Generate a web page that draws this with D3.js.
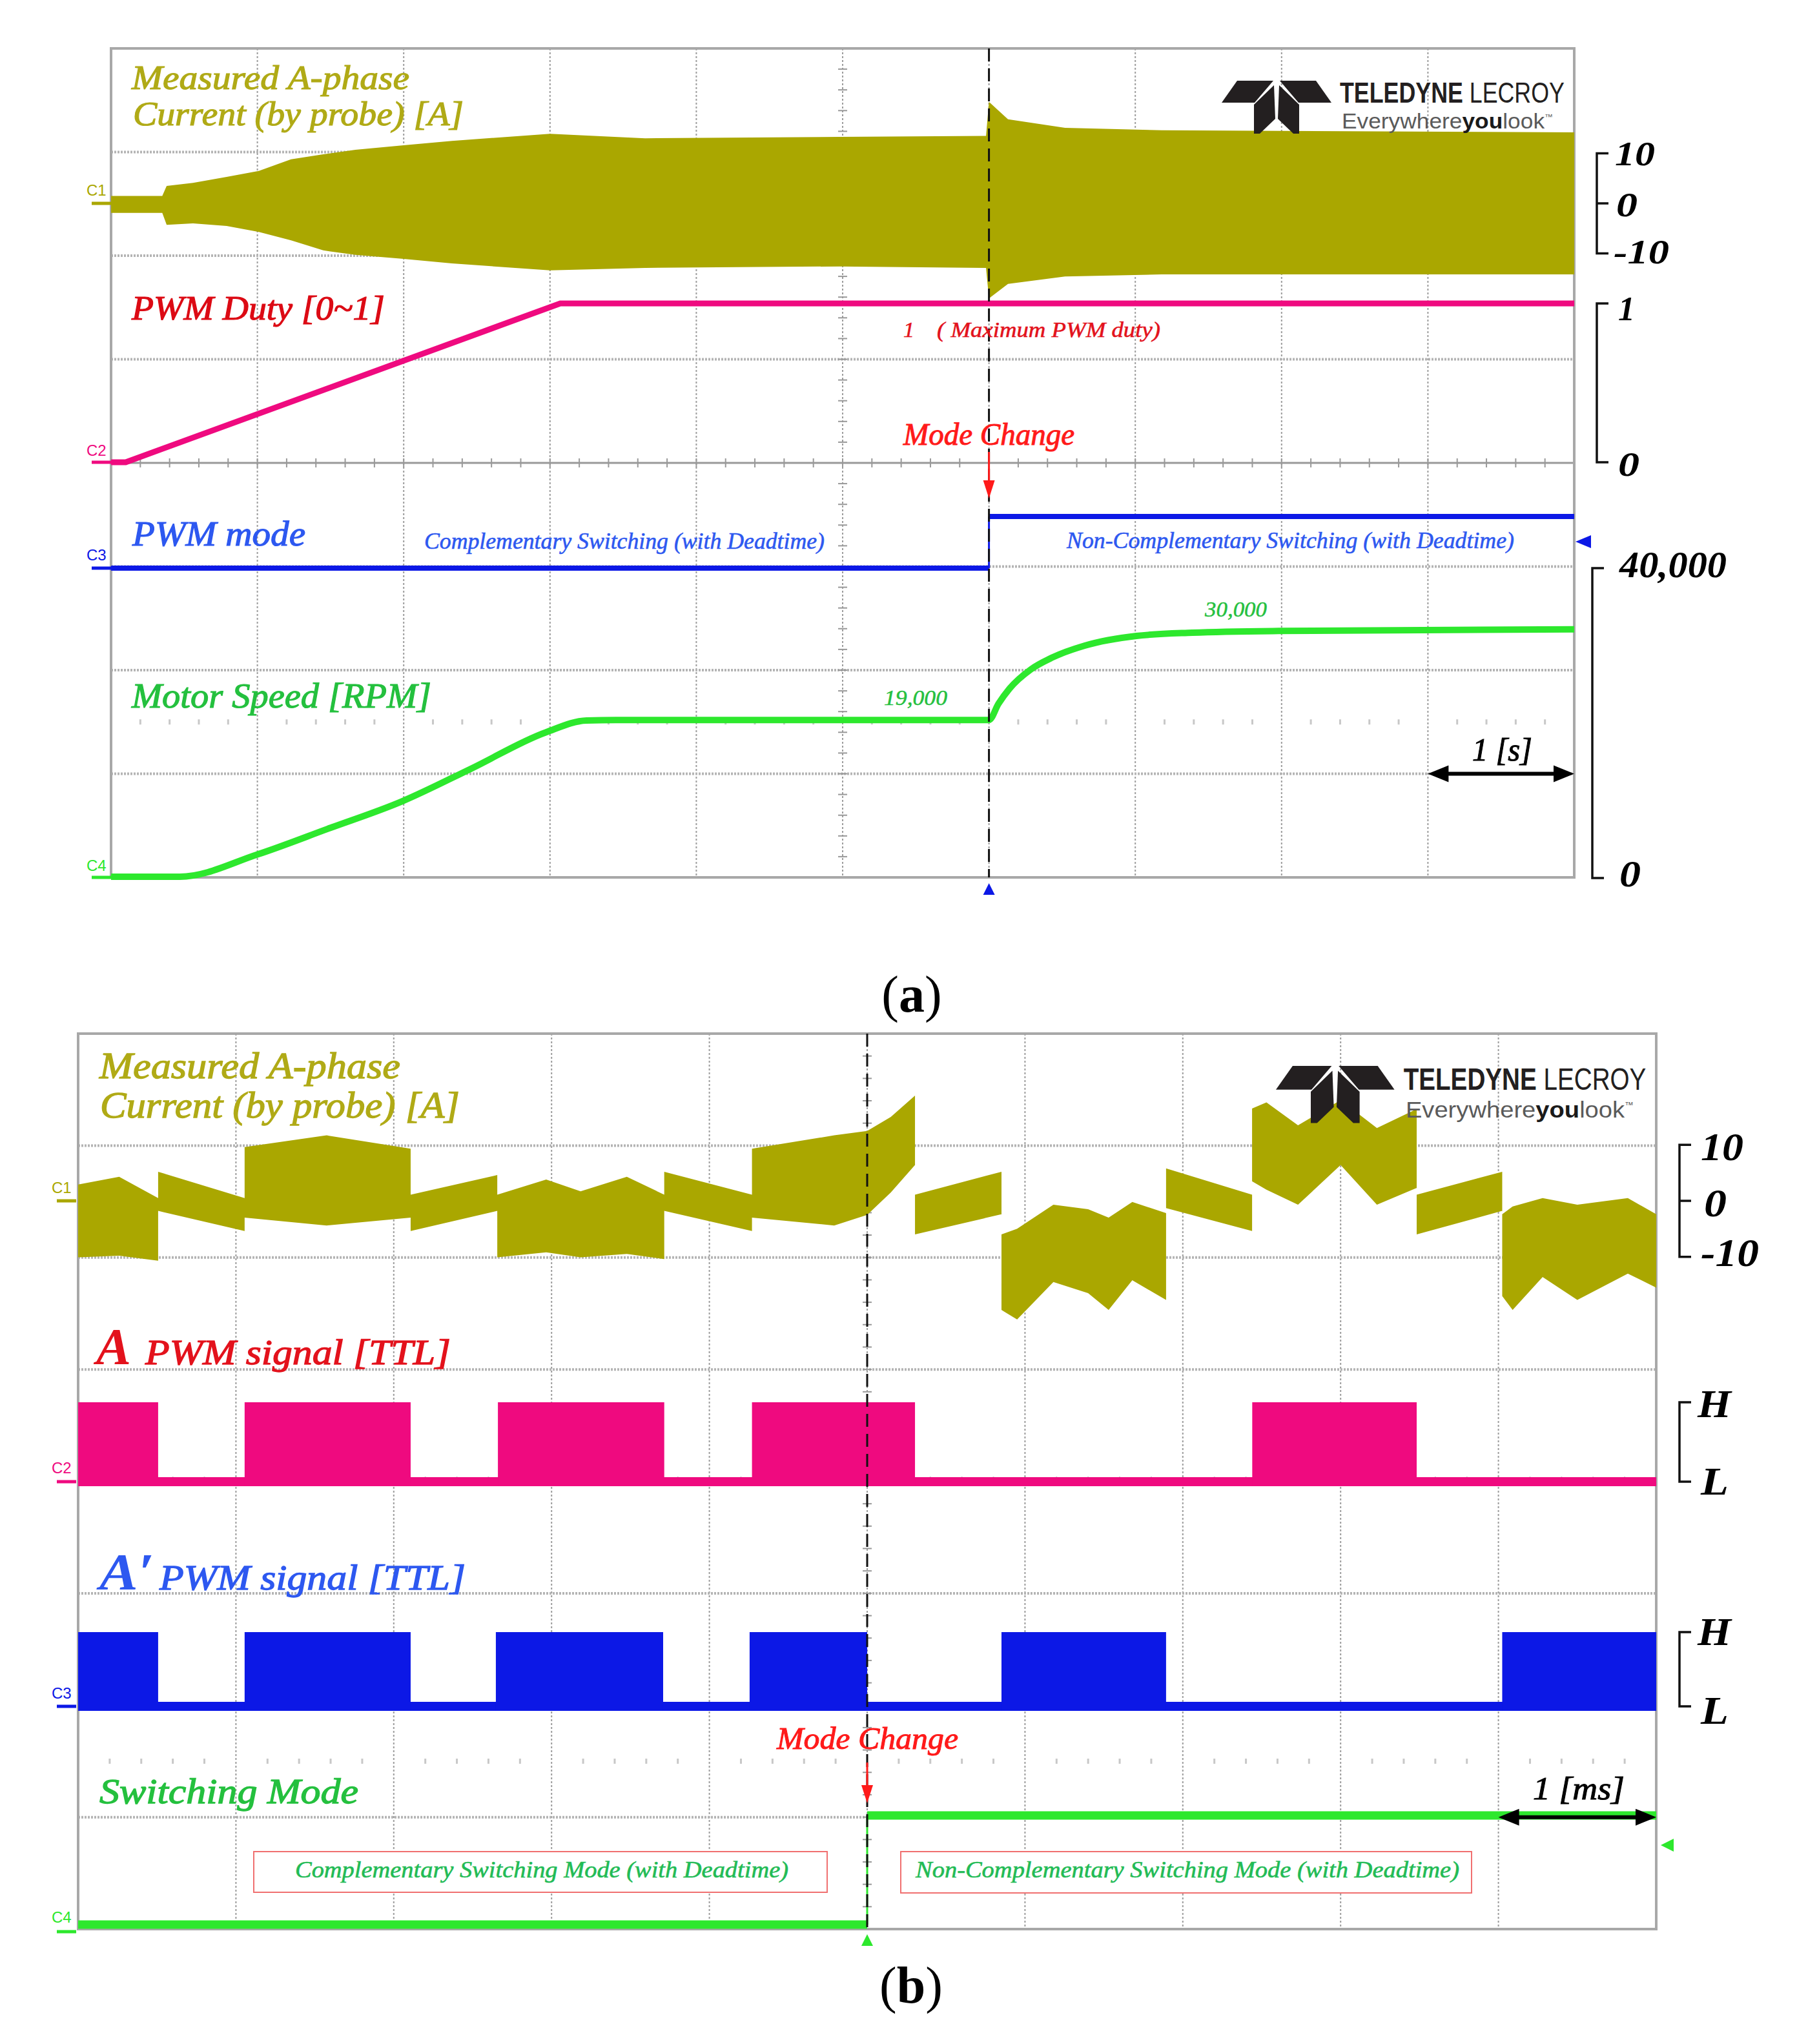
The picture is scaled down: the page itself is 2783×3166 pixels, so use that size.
<!DOCTYPE html>
<html>
<head>
<meta charset="utf-8">
<script src="https://cdn.jsdelivr.net/npm/d3@7/dist/d3.min.js"></script>
<style>body{margin:0;background:#fff}</style>
</head>
<body>
<script>
"use strict";

// ---- data read off the two scope screens ----
// (a) time in s, current in A as [t, upper envelope, lower envelope]
const currentA = [
	[0.00, 1.5, -1.9], [0.35, 1.5, -1.9], [0.38, 3.5, -4.3], [0.56, 4.1, -4.0],
	[0.79, 5.3, -4.5], [1.01, 6.5, -5.7], [1.23, 8.8, -7.4], [1.45, 9.8, -9.4],
	[1.67, 10.7, -10.3], [2.00, 11.6, -11.1], [2.33, 12.5, -12.0], [3.00, 13.9, -13.4],
	[3.65, 13.0, -12.9], [4.98, 13.3, -12.6], [5.98, 13.5, -12.9], [6.00, 20.3, -19.0],
	[6.13, 16.8, -16.1], [6.52, 15.1, -14.6], [7.18, 14.6, -14.2], [10.0, 14.2, -14.2]
]
const dutyA = [[0, 0], [0.1, 0], [3.07, 1], [10, 1]]
const modeA = [[0, 0], [6, 0], [6, 1], [10, 1]]
const speedA = [
	[0, 0], [0.47, 0], [1.0, 2700], [1.48, 5800], [1.99, 9150], [2.46, 13100],
	[2.97, 17500], [3.25, 18950], [3.45, 19000], [6.0, 19000], [6.065, 20980],
	[6.14, 22800], [6.287, 25150], [6.434, 26590], [6.655, 28020], [7.008, 29200],
	[7.39, 29590], [7.98, 29800], [10, 30000]
]
const modeChangeA = 6 // s
const speedMarks = [19000, 30000]

// (b) time in ms
const currentB = [
	[0.000, 2.9, -10.1], [0.260, 4.3, -9.8], [0.507, 0.5, -10.7],
	[0.507, 5.2, -1.8], [1.055, 0.5, -5.4],
	[1.055, 9.6, -3.0], [1.575, 11.7, -4.4], [2.107, 9.3, -3.0],
	[2.107, 1.1, -5.4], [2.656, 4.6, -1.8],
	[2.656, 1.1, -10.1], [2.966, 3.8, -9.2], [3.184, 1.7, -10.1], [3.477, 4.3, -9.5], [3.714, 1.1, -10.4],
	[3.714, 5.2, -1.8], [4.270, 1.1, -5.4],
	[4.270, 9.3, -3.0], [4.791, 11.7, -4.4], [5.000, 12.5, -2.5], [5.150, 15.0, 1.5], [5.303, 18.8, 6.4],
	[5.303, 1.1, -6.0], [5.851, 5.2, -2.4],
	[5.851, -6.0, -19.5], [5.950, -5.0, -21.2], [6.180, -0.7, -14.5], [6.400, -1.5, -16.5],
	[6.530, -3.0, -19.5], [6.680, -0.2, -14.2], [6.894, -2.2, -17.7],
	[6.894, 5.8, -1.3], [7.439, 1.1, -5.4],
	[7.439, 16.5, 3.5], [7.530, 17.6, 2.0], [7.730, 13.5, -0.7], [8.000, 18.0, 6.4], [8.230, 13.0, -0.7], [8.482, 16.4, 2.3],
	[8.482, 1.1, -6.0], [9.024, 5.2, -1.8],
	[9.024, -2.4, -17.0], [9.090, -1.0, -19.5], [9.280, 0.5, -13.6], [9.500, -0.7, -17.7], [9.820, 0.5, -13.0], [10.00, -2.4, -15.5]
]
const pwmHighA = [[0, 0.507], [1.055, 2.107], [2.66, 3.714], [4.27, 5.303], [7.44, 8.482]]
const pwmHighAp = [[0, 0.507], [1.055, 2.107], [2.647, 3.707], [4.255, 5.0], [5.851, 6.894], [9.024, 10]]
const switchModeB = [[0, 0], [5, 0], [5, 1], [10, 1]]
const modeChangeB = 5 // ms

// scale labels on the right
const curLabels = ['10', '0', '-10']
const dutyLabels = ['1', '0']
const speedLabels = ['40,000', '0']
const ttlLabels = ['H', 'L']

// ---- layout ----
const p = {
	width: 2783,
	height: 3166,
	frameA: { x0: 172, x1: 2438, y0: 75, y1: 1359 },
	frameB: { x0: 121, x1: 2565, y0: 1601, y1: 2988 },
	olive: '#aaa700', oliveText: '#b0aa16',
	pink: '#ef0a7f', red: '#e3121c',
	blue: '#0c18e6', blueText: '#2d58f0',
	green: '#2de82d', greenText: '#24c03e',
	serif: "'Liberation Serif','Times New Roman',serif",
	sans: "'Liberation Sans','Arial',sans-serif"
}

const svg = d3.select('body')
	.append('svg')
	.attr('width', p.width)
	.attr('height', p.height)
svg.append('rect').attr('width', p.width).attr('height', p.height).attr('fill', '#fff')

// scales
const xA = d3.scaleLinear().domain([0, 10]).range([p.frameA.x0, p.frameA.x1])
const yCurA = d3.scaleLinear().domain([-10, 10]).range([392.5, 237.5])
const yDutyA = d3.scaleLinear().domain([0, 1]).range([716, 470])
const yModeA = d3.scaleLinear().domain([0, 1]).range([880, 800])
const ySpeedA = d3.scaleLinear().domain([0, 40000]).range([1358, 847])

const xB = d3.scaleLinear().domain([0, 10]).range([p.frameB.x0, p.frameB.x1])
const yCurB = d3.scaleLinear().domain([-10, 10]).range([1946.7, 1773.3])
const yPwmA = d3.scaleLinear().domain([0, 1]).range([2295, 2172])
const yPwmAp = d3.scaleLinear().domain([0, 1]).range([2643, 2528])
const ySwB = d3.scaleLinear().domain([0, 1]).range([2981, 2812])

// text helper
function label(g, s, x, y, o) {
	const t = g.append('text')
		.attr('x', x)
		.attr('y', y)
		.attr('font-family', o.sans ? p.sans : p.serif)
		.attr('font-size', o.size)
		.attr('fill', o.color || '#000')
		.text(s)
	if (!o.upright) t.attr('font-style', 'italic')
	if (o.bold) t.attr('font-weight', 'bold')
	if (o.anchor) t.attr('text-anchor', o.anchor)
	if (o.width) t.attr('textLength', o.width).attr('lengthAdjust', 'spacingAndGlyphs')
	if (o.heavy) t.attr('stroke', o.color || '#000').attr('stroke-width', o.heavy)
	return t
}

// squeeze a text horizontally to a given width with a transform
function squeeze(t, x, y, width) {
	const w = t.node().getComputedTextLength()
	t.attr('transform', `translate(${x},${y}) scale(${w > 0 ? width / w : 1},1)`)
	return t
}

// scope graticule
function drawGrid(g, f) {
	const dx = (f.x1 - f.x0) / 10, dy = (f.y1 - f.y0) / 8
	const cx = f.x0 + 5 * dx, cy = f.y0 + 4 * dy
	for (let i = 1; i < 10; i++) {
		g.append('line')
			.attr('x1', f.x0 + i * dx).attr('x2', f.x0 + i * dx)
			.attr('y1', f.y0).attr('y2', f.y1)
			.attr('stroke', '#9c9c9c').attr('stroke-width', 2).attr('stroke-dasharray', '3,3')
	}
	for (let j = 1; j < 8; j++) {
		if (j === 4) continue
		g.append('line')
			.attr('x1', f.x0).attr('x2', f.x1)
			.attr('y1', f.y0 + j * dy).attr('y2', f.y0 + j * dy)
			.attr('stroke', '#b4b4b4').attr('stroke-width', 4).attr('stroke-dasharray', '3,2')
	}
	//center cross with minor ticks
	g.append('line').attr('x1', f.x0).attr('x2', f.x1).attr('y1', cy).attr('y2', cy)
		.attr('stroke', '#999').attr('stroke-width', 3)
	for (let k = 1; k < 50; k++) {
		g.append('line').attr('x1', f.x0 + k * dx / 5).attr('x2', f.x0 + k * dx / 5)
			.attr('y1', cy - 7).attr('y2', cy + 7).attr('stroke', '#999').attr('stroke-width', 2)
	}
	for (let k = 1; k < 40; k++) {
		g.append('line').attr('x1', cx - 7).attr('x2', cx + 7)
			.attr('y1', f.y0 + k * dy / 5).attr('y2', f.y0 + k * dy / 5).attr('stroke', '#999').attr('stroke-width', 2)
	}
	//faint row of marks left on the screen
	for (let k = 1; k < 50; k++) {
		if (k % 5 === 0) continue
		g.append('rect').attr('x', f.x0 + k * dx / 5 - 1.5).attr('y', f.y0 + 6.5 * dy - 4)
			.attr('width', 3).attr('height', 8).attr('fill', '#c8c8c8')
	}
	g.append('rect')
		.attr('x', f.x0).attr('y', f.y0)
		.attr('width', f.x1 - f.x0).attr('height', f.y1 - f.y0)
		.attr('fill', 'none').attr('stroke', '#a8a8a8').attr('stroke-width', 4)
}

// step traces: thick levels, thin edges
function stepTrace(g, data, x, y, color, w) {
	for (let i = 1; i < data.length; i++) {
		const a = data[i - 1], b = data[i]
		g.append('line')
			.attr('x1', x(a[0])).attr('y1', y(a[1]))
			.attr('x2', x(b[0])).attr('y2', y(b[1]))
			.attr('stroke', color)
			.attr('stroke-width', a[0] === b[0] ? 3 : w)
	}
}

function bracket(g, x, yTop, yBot, mids) {
	let d = `M${x + 18},${yTop}H${x}V${yBot}H${x + 18}`
	mids.forEach(m => { d += `M${x},${m}H${x + 18}` })
	g.append('path').attr('d', d).attr('fill', 'none').attr('stroke', '#111').attr('stroke-width', 3.5)
}

function arrowDown(g, x, y0, y1, color) {
	g.append('line').attr('x1', x).attr('x2', x).attr('y1', y0).attr('y2', y1 - 24)
		.attr('stroke', color).attr('stroke-width', 3)
	g.append('path').attr('d', `M${x - 9},${y1 - 28}L${x + 9},${y1 - 28}L${x},${y1}Z`).attr('fill', color)
}

function doubleArrow(g, xa, xb, y) {
	g.append('line').attr('x1', xa + 20).attr('x2', xb - 20).attr('y1', y).attr('y2', y)
		.attr('stroke', '#000').attr('stroke-width', 6)
	g.append('path').attr('d', `M${xa},${y}L${xa + 32},${y - 13}L${xa + 32},${y + 13}Z`).attr('fill', '#000')
	g.append('path').attr('d', `M${xb},${y}L${xb - 32},${y - 13}L${xb - 32},${y + 13}Z`).attr('fill', '#000')
}

function chanTag(g, name, x, y, yLine, color) {
	label(g, name, x, y, { size: 24, sans: true, upright: true, color: color })
	g.append('line').attr('x1', x + 8).attr('x2', x + 38).attr('y1', yLine).attr('y2', yLine)
		.attr('stroke', color).attr('stroke-width', 5)
}

// teledyne lecroy badge
function drawLogo(g, x, y, k) {
	const lg = g.append('g').attr('transform', `translate(${x},${y}) scale(${k})`)
	const polys = [
		[[24, 0], [80, 0], [51, 34], [0, 34]],
		[[90, 0], [146, 0], [170, 34], [119, 34]],
		[[50, 37], [81, 7], [83, 59], [59, 82], [50, 82]],
		[[120, 37], [89, 7], [87, 59], [111, 82], [120, 82]]
	]
	polys.forEach(pt => lg.append('path').attr('d', 'M' + pt.join('L') + 'Z').attr('fill', '#231f20'))
	const top = label(lg, '', 0, 0, { size: 44, sans: true, upright: true, color: '#231f20' })
	top.append('tspan').text('TELEDYNE ').attr('font-weight', 'bold')
	top.append('tspan').text('LECROY')
	squeeze(top, 183, 34, 348)
	const t = label(lg, '', 0, 0, { size: 33, sans: true, upright: true, color: '#5a5a5a' })
	t.append('tspan').text('Everywhere')
	t.append('tspan').text('you').attr('font-weight', 'bold').attr('fill', '#1a1a1a')
	t.append('tspan').text('look')
	t.append('tspan').text('™').attr('font-size', 12).attr('dy', -14)
	squeeze(t, 186, 74, 327)
}

// ================= panel (a) =================
const ga = svg.append('g')
drawGrid(ga, p.frameA)

ga.append('path')
	.datum(currentA)
	.attr('d', d3.area().x(d => xA(d[0])).y0(d => yCurA(d[2])).y1(d => yCurA(d[1])))
	.attr('fill', p.olive)

ga.append('path')
	.datum(dutyA)
	.attr('d', d3.line().x(d => xA(d[0])).y(d => yDutyA(d[1])))
	.attr('fill', 'none').attr('stroke', p.pink).attr('stroke-width', 9)

stepTrace(ga, modeA, xA, yModeA, p.blue, 8)

ga.append('path')
	.datum(speedA)
	.attr('d', d3.line().curve(d3.curveMonotoneX).x(d => xA(d[0])).y(d => ySpeedA(d[1])))
	.attr('fill', 'none').attr('stroke', p.green).attr('stroke-width', 10)

// mode change marker
ga.append('line')
	.attr('x1', xA(modeChangeA)).attr('x2', xA(modeChangeA))
	.attr('y1', p.frameA.y0).attr('y2', p.frameA.y1)
	.attr('stroke', '#111').attr('stroke-width', 3).attr('stroke-dasharray', '20,11')
ga.append('path')
	.attr('d', `M${xA(modeChangeA)},1368L${xA(modeChangeA) - 9},1386L${xA(modeChangeA) + 9},1386Z`)
	.attr('fill', p.blue)
ga.append('path').attr('d', 'M2440,839L2464,829L2464,849Z').attr('fill', p.blue)
arrowDown(ga, xA(modeChangeA), 700, 772, '#ff1a1a')

chanTag(ga, 'C1', 134, 303, yCurA(0), p.olive)
chanTag(ga, 'C2', 134, 706, yDutyA(0), p.pink)
chanTag(ga, 'C3', 134, 868, yModeA(0), p.blue)
chanTag(ga, 'C4', 134, 1349, p.frameA.y1, p.green)

label(ga, 'Measured A-phase', 204, 138, { size: 52, color: p.oliveText, width: 430, heavy: 1.2 })
label(ga, 'Current (by probe) [A]', 206, 194, { size: 52, color: p.oliveText, width: 512, heavy: 1.2 })
label(ga, 'PWM Duty [0~1]', 204, 495, { size: 52, color: '#dc0a14', width: 392, heavy: 1.2 })
label(ga, '1', 1399, 522, { size: 34, color: p.red, heavy: 0.6 })
label(ga, '( Maximum PWM duty)', 1451, 522, { size: 34, color: p.red, width: 346, heavy: 0.6 })
label(ga, 'Mode Change', 1399, 689, { size: 48, color: '#ff1a1a', width: 265, heavy: 1 })
label(ga, 'PWM mode', 205, 845, { size: 54, color: p.blueText, width: 268, heavy: 1.2 })
label(ga, 'Complementary Switching (with Deadtime)', 657, 850, { size: 36, color: p.blueText, width: 620, heavy: 0.6 })
label(ga, 'Non-Complementary Switching (with Deadtime)', 1652, 849, { size: 36, color: p.blueText, width: 693, heavy: 0.6 })
label(ga, 'Motor Speed [RPM]', 204, 1096, { size: 54, color: p.greenText, width: 464, heavy: 1.2 })
label(ga, d3.format(',')(speedMarks[0]), 1369, ySpeedA(speedMarks[0]) - 23, { size: 34, color: p.greenText, width: 98, heavy: 0.5 })
label(ga, d3.format(',')(speedMarks[1]), 1866, ySpeedA(speedMarks[1]) - 20, { size: 34, color: p.greenText, width: 96, heavy: 0.5 })

const dyA = (p.frameA.y1 - p.frameA.y0) / 8
label(ga, '1 [s]', 2280, 1178, { size: 50, color: '#000', width: 93, heavy: 1 })
doubleArrow(ga, xA(9), xA(10), p.frameA.y0 + 7 * dyA)

drawLogo(ga, 1892, 125, 1)

// right-hand scales
bracket(ga, 2473, yCurA(10), yCurA(-10), [yCurA(0)])
label(ga, curLabels[0], 2501, yCurA(10) + 18, { size: 52, bold: true, width: 62 })
label(ga, curLabels[1], 2503, yCurA(0) + 20, { size: 52, bold: true, width: 33 })
label(ga, curLabels[2], 2499, yCurA(-10) + 15, { size: 52, bold: true, width: 86 })
bracket(ga, 2473, yDutyA(1), yDutyA(0), [])
label(ga, dutyLabels[0], 2506, yDutyA(1) + 26, { size: 52, bold: true })
label(ga, dutyLabels[1], 2506, yDutyA(0) + 21, { size: 52, bold: true, width: 33 })
bracket(ga, 2466, 880, 1360, [])
label(ga, speedLabels[0], 2508, 894, { size: 56, bold: true, width: 166 })
label(ga, speedLabels[1], 2508, 1373, { size: 56, bold: true, width: 33 })

const capA = label(ga, '', 1412, 1567, { size: 80, upright: true, anchor: 'middle' })
capA.append('tspan').text('(')
capA.append('tspan').text('a').attr('font-weight', 'bold')
capA.append('tspan').text(')')

// ================= panel (b) =================
const gb = svg.append('g')
drawGrid(gb, p.frameB)

gb.append('path')
	.datum(currentB)
	.attr('d', d3.area().x(d => xB(d[0])).y0(d => yCurB(d[2])).y1(d => yCurB(d[1])))
	.attr('fill', p.olive)

// gate signals: switching bursts drawn as filled blocks on a low rail
function pwmTrace(g, highs, y, color) {
	g.append('line').attr('x1', xB(0)).attr('x2', xB(10)).attr('y1', y(0)).attr('y2', y(0))
		.attr('stroke', color).attr('stroke-width', 14)
	g.selectAll(null)
		.data(highs)
		.enter()
		.append('rect')
		.attr('x', d => xB(d[0]))
		.attr('y', y(1))
		.attr('width', d => xB(d[1]) - xB(d[0]))
		.attr('height', y(0) + 7 - y(1))
		.attr('fill', color)
}
pwmTrace(gb, pwmHighA, yPwmA, p.pink)
pwmTrace(gb, pwmHighAp, yPwmAp, p.blue)
stepTrace(gb, switchModeB, xB, ySwB, p.green, 13)

gb.append('line')
	.attr('x1', xB(modeChangeB)).attr('x2', xB(modeChangeB))
	.attr('y1', p.frameB.y0).attr('y2', p.frameB.y1)
	.attr('stroke', '#111').attr('stroke-width', 3).attr('stroke-dasharray', '20,11')
gb.append('path')
	.attr('d', `M${xB(modeChangeB)},2996L${xB(modeChangeB) - 9},3014L${xB(modeChangeB) + 9},3014Z`)
	.attr('fill', p.green)
gb.append('path').attr('d', 'M2572,2858L2592,2848L2592,2868Z').attr('fill', p.green)
arrowDown(gb, xB(modeChangeB), 2730, 2793, '#ff1a1a')

chanTag(gb, 'C1', 80, 1848, yCurB(0), p.olive)
chanTag(gb, 'C2', 80, 2282, yPwmA(0), p.pink)
chanTag(gb, 'C3', 80, 2631, yPwmAp(0), p.blue)
chanTag(gb, 'C4', 80, 2978, 2992, p.green)

label(gb, 'Measured A-phase', 154, 1670, { size: 58, color: p.oliveText, width: 466, heavy: 1.3 })
label(gb, 'Current (by probe) [A]', 155, 1731, { size: 58, color: p.oliveText, width: 557, heavy: 1.3 })
label(gb, 'A', 149, 2113, { size: 80, bold: true, color: p.red, width: 54 })
label(gb, 'PWM signal [TTL]', 225, 2113, { size: 55, color: p.red, width: 473, heavy: 1.3 })
label(gb, 'A′', 154, 2462, { size: 80, bold: true, color: p.blueText, width: 85 })
label(gb, 'PWM signal [TTL]', 247, 2462, { size: 55, color: p.blueText, width: 474, heavy: 1.3 })
label(gb, 'Mode Change', 1203, 2709, { size: 48, color: '#ff1a1a', width: 281, heavy: 1 })
label(gb, 'Switching Mode', 154, 2793, { size: 54, color: p.greenText, width: 401, heavy: 1.3 })

// boxed mode notes
gb.append('rect').attr('x', 393).attr('y', 2868).attr('width', 888).attr('height', 63)
	.attr('fill', '#fff').attr('stroke', '#f07070').attr('stroke-width', 2)
label(gb, 'Complementary Switching Mode (with Deadtime)', 457, 2908, { size: 36, color: '#22bb55', width: 764, heavy: 0.6 })
gb.append('rect').attr('x', 1395).attr('y', 2868).attr('width', 884).attr('height', 64)
	.attr('fill', '#fff').attr('stroke', '#f07070').attr('stroke-width', 2)
label(gb, 'Non-Complementary Switching Mode (with Deadtime)', 1418, 2908, { size: 36, color: '#22bb55', width: 842, heavy: 0.6 })

const dyB = (p.frameB.y1 - p.frameB.y0) / 8
label(gb, '1 [ms]', 2374, 2787, { size: 50, color: '#000', width: 142, heavy: 1 })
doubleArrow(gb, xB(9), xB(10), p.frameB.y0 + 7 * dyB)

drawLogo(gb, 1976, 1651, 1.08)

bracket(gb, 2601, yCurB(10), yCurB(-10), [yCurB(0)])
label(gb, curLabels[0], 2634, yCurB(10) + 24, { size: 62, bold: true, width: 66 })
label(gb, curLabels[1], 2639, yCurB(0) + 24, { size: 62, bold: true, width: 35 })
label(gb, curLabels[2], 2634, yCurB(-10) + 14, { size: 62, bold: true, width: 90 })
bracket(gb, 2601, yPwmA(1), yPwmA(0), [])
label(gb, ttlLabels[0], 2629, yPwmA(1) + 23, { size: 62, bold: true, width: 52 })
label(gb, ttlLabels[1], 2634, yPwmA(0) + 20, { size: 62, bold: true, width: 43 })
bracket(gb, 2601, yPwmAp(1), yPwmAp(0), [])
label(gb, ttlLabels[0], 2629, yPwmAp(1) + 20, { size: 62, bold: true, width: 52 })
label(gb, ttlLabels[1], 2634, yPwmAp(0) + 27, { size: 62, bold: true, width: 43 })

const capB = label(gb, '', 1411, 3102, { size: 80, upright: true, anchor: 'middle' })
capB.append('tspan').text('(')
capB.append('tspan').text('b').attr('font-weight', 'bold')
capB.append('tspan').text(')')
</script>
</body>
</html>
